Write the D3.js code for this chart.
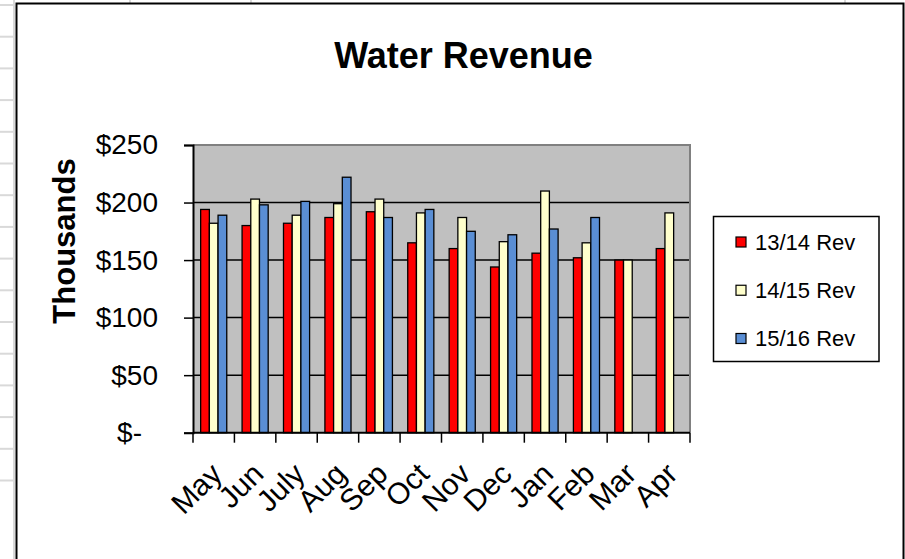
<!DOCTYPE html>
<html>
<head>
<meta charset="utf-8">
<script src="https://cdn.jsdelivr.net/npm/d3@7/dist/d3.min.js"></script>
<style>
  html, body { margin: 0; padding: 0; background: #fff; }
  svg { display: block; font-family: "Liberation Sans", Arial, sans-serif; }
</style>
</head>
<body>
<svg id="chart" width="905" height="559"></svg>
<script>
// ---- data ----
const months = ["May","Jun","July","Aug","Sep","Oct","Nov","Dec","Jan","Feb","Mar","Apr"];
const seriesNames = ["13/14 Rev","14/15 Rev","15/16 Rev"];
const rev1314 = [194,180,182,187,192,165,160,144,156,152,150,160];
const rev1415 = [182,203,189,199,203,191,187,166,210,165,150,191];
const rev1516 = [189,198,201,222,187,194,175,172,177,187,null,null];
const yTicks = [0,50,100,150,200,250];
const seriesColors = ["#FF0000","#FFFFCC","#5A8ED4"];

const seriesValues = [rev1314, rev1415, rev1516];

const svg = d3.select("#chart");

// spreadsheet background decoration
const sheet = svg.append("g");
sheet.append("line").attr("x1",14).attr("x2",14).attr("y1",0).attr("y2",559)
  .attr("stroke","#d9d9d9").attr("stroke-width",2);
d3.range(0, 16).forEach(i => {
  const y = 5 + i * 31.7;
  sheet.append("line").attr("x1",0).attr("x2",14).attr("y1",y).attr("y2",y)
    .attr("stroke","#d9d9d9").attr("stroke-width",2);
});
[130, 251, 845].forEach(x => {
  sheet.append("line").attr("x1",x).attr("x2",x).attr("y1",0).attr("y2",3)
    .attr("stroke","#d9d9d9").attr("stroke-width",2);
});

// chart area border
svg.append("rect").attr("x",16.5).attr("y",3.5).attr("width",887).attr("height",600)
  .attr("fill","#fff").attr("stroke","#000").attr("stroke-width",2);

// title
svg.append("text").attr("x",463.5).attr("y",68).attr("text-anchor","middle")
  .attr("font-size",36).attr("font-weight","bold").text("Water Revenue");

// plot geometry
const L = 193, R = 690, T = 145, B = 432.7;
const x0 = d3.scaleBand().domain(months).range([L, R]).padding(0);
const bw = x0.bandwidth();
const gap = bw - 26.1;
const x1 = d3.scaleBand().domain(seriesNames).range([gap/2, bw - gap/2]).padding(0);
const y = d3.scaleLinear().domain([0, 250]).range([B, T]);

// plot background
svg.append("rect").attr("x",L).attr("y",T).attr("width",R-L).attr("height",B-T)
  .attr("fill","#C0C0C0");

// gridlines
svg.append("g").selectAll("line").data(yTicks.filter(d => d > 0 && d < 250)).join("line")
  .attr("x1",L).attr("x2",R).attr("y1",d => y(d)).attr("y2",d => y(d))
  .attr("stroke","#000").attr("stroke-width",1.5);

// plot top/right border (gray)
svg.append("path").attr("d",`M${L},${T}H${R}V${B}`).attr("fill","none")
  .attr("stroke","#808080").attr("stroke-width",2);

// bars
const barData = [];
months.forEach((m, i) => {
  seriesNames.forEach((s, j) => {
    const v = seriesValues[j][i];
    if (v != null) barData.push({m, s, v, j});
  });
});
svg.append("g").selectAll("rect").data(barData).join("rect")
  .attr("x", d => x0(d.m) + x1(d.s))
  .attr("y", d => y(d.v))
  .attr("width", x1.bandwidth())
  .attr("height", d => y(0) - y(d.v))
  .attr("fill", d => seriesColors[d.j])
  .attr("stroke","#000").attr("stroke-width",1.3);

// y axis
const yAxis = d3.axisLeft(y).tickValues(yTicks).tickSize(9).tickPadding(26)
  .tickFormat(d => d === 0 ? "$-" : "$" + d);
const gy = svg.append("g").attr("transform",`translate(${L},0)`).call(yAxis);
gy.select(".domain").attr("stroke","#000").attr("stroke-width",2);
gy.selectAll(".tick line").attr("stroke","#000").attr("stroke-width",1.5);
gy.selectAll(".tick text").attr("font-size",28).attr("fill","#000")
  .attr("font-family","'Liberation Sans', Arial, sans-serif")
  .attr("dx", d => d === 0 ? -16 : 0);

// x axis (ticks at category boundaries)
const boundaries = months.map(m => x0(m)).concat([R]);
svg.append("line").attr("x1",L).attr("x2",R).attr("y1",B).attr("y2",B)
  .attr("stroke","#000").attr("stroke-width",2);
svg.append("g").selectAll("line").data(boundaries).join("line")
  .attr("x1",d => d).attr("x2",d => d).attr("y1",B).attr("y2",B+10)
  .attr("stroke","#000").attr("stroke-width",1.5);

svg.append("g").selectAll("text").data(months).join("text")
  .attr("transform", d => `translate(${x0(d) + bw/2 - 5},${B + 28}) rotate(-45)`)
  .attr("text-anchor","end").attr("dy","0.71em")
  .attr("font-size",30).text(d => d);

// y axis title
svg.append("text").attr("transform","translate(75,241) rotate(-90)")
  .attr("text-anchor","middle").attr("font-size",31).attr("font-weight","bold")
  .text("Thousands");

// legend
const lg = svg.append("g");
lg.append("rect").attr("x",713.5).attr("y",216.5).attr("width",165.5).attr("height",145)
  .attr("fill","#fff").attr("stroke","#000").attr("stroke-width",1.5);
const ly = d3.scalePoint().domain(seriesNames).range([242, 338.5]);
lg.selectAll("rect.sw").data(seriesNames).join("rect").attr("class","sw")
  .attr("x",736).attr("y",d => ly(d) - 5).attr("width",10).attr("height",10)
  .attr("fill",(d,i) => seriesColors[i]).attr("stroke","#000").attr("stroke-width",1.2);
lg.selectAll("text").data(seriesNames).join("text")
  .attr("x",755).attr("y",d => ly(d)).attr("dy","0.36em")
  .attr("font-size",22).text(d => d);
</script>
</body>
</html>
